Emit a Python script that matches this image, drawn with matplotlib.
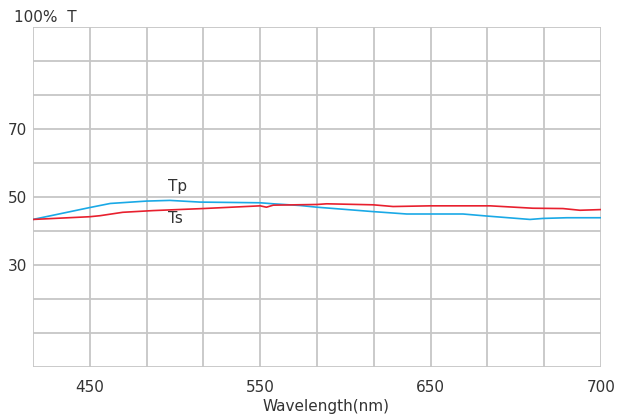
import matplotlib
matplotlib.use("Agg")
import matplotlib.pyplot as plt

# x positions in grid divisions (0..10); tick labels as printed on the chart
tp_x = [0.0, 1.0, 1.36, 2.0, 2.41, 2.94, 4.0, 4.23, 4.70, 5.0, 5.99, 6.58, 7.57, 7.99, 8.75, 8.98, 9.40, 10.0]
tp_y = [43.4, 46.9, 48.1, 48.8, 49.0, 48.5, 48.3, 48.0, 47.5, 47.0, 45.7, 45.0, 45.0, 44.4, 43.4, 43.7, 43.9, 43.9]

ts_x = [0.0, 1.0, 1.18, 1.58, 2.11, 2.99, 4.0, 4.11, 4.23, 5.0, 5.17, 5.99, 6.34, 6.99, 8.05, 8.80, 9.33, 9.63, 10.0]
ts_y = [43.4, 44.2, 44.5, 45.5, 46.0, 46.6, 47.4, 47.0, 47.6, 47.8, 48.0, 47.7, 47.2, 47.4, 47.4, 46.7, 46.6, 46.1, 46.3]

x_tick_pos = [1, 4, 7, 10]
x_tick_labels = ["450", "550", "650", "700"]
y_tick_pos = [30, 50, 70]
y_tick_labels = ["30", "50", "70"]

text_color = "#333333"
grid_color = "#c6c6c6"

fig = plt.figure(figsize=(6.24, 4.16), dpi=100)
ax = fig.add_axes([33/624, 1-367/416, (601-33)/624, (367-27)/416])

ax.set_xlim(0, 10)
ax.set_ylim(0, 100)
for gx in range(0, 11):
    ax.axvline(gx, color=grid_color, lw=1.3, zorder=1)
for gy in range(0, 101, 10):
    ax.axhline(gy, color=grid_color, lw=1.3, zorder=1)
for s in ax.spines.values():
    s.set_visible(False)

ax.plot(tp_x, tp_y, color="#1aa9e6", lw=1.2, zorder=3)
ax.plot(ts_x, ts_y, color="#e8202e", lw=1.2, zorder=4)

ax.text(2.55, 53.2, "Tp", fontsize=11, color=text_color, ha="center", va="center")
ax.text(2.5, 43.8, "Ts", fontsize=11, color=text_color, ha="center", va="center")

ax.set_xticks(x_tick_pos)
ax.set_xticklabels(x_tick_labels)
ax.set_yticks(y_tick_pos)
ax.set_yticklabels(y_tick_labels)
ax.tick_params(axis="both", length=0, labelsize=11, labelcolor=text_color)
ax.tick_params(axis="x", pad=9)
ax.tick_params(axis="y", pad=4)

fig.text(14/624, 1-17/416, "100%  T", fontsize=11, color=text_color, ha="left", va="center")
fig.text(326/624, 1-407/416, "Wavelength(nm)", fontsize=11, color=text_color, ha="center", va="center")

fig.savefig("out.png", dpi=100)
